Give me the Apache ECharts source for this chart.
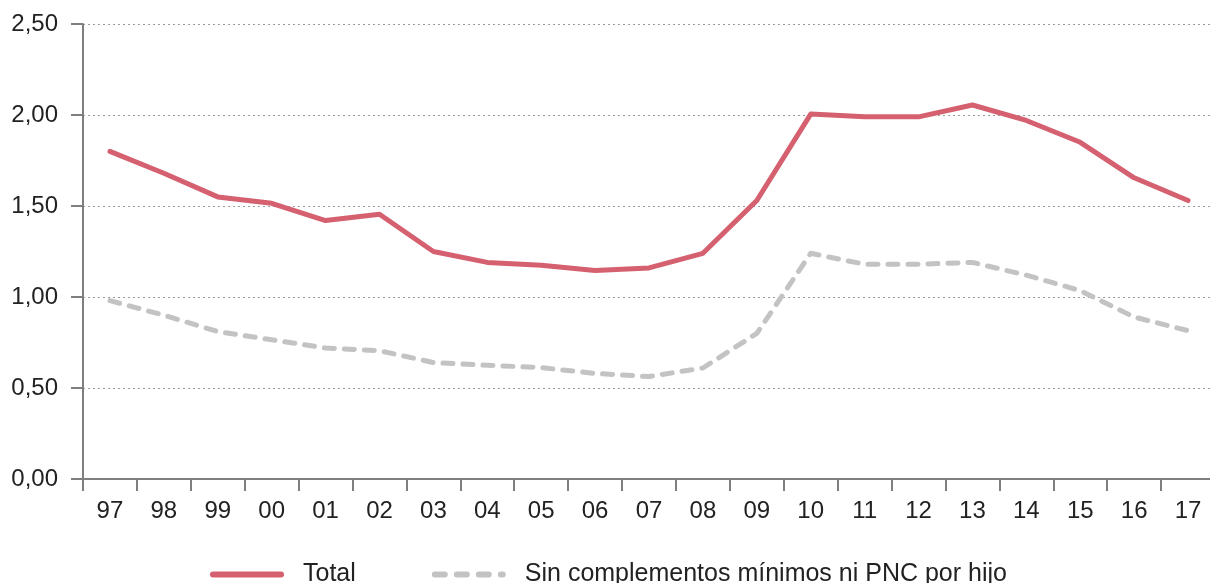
<!DOCTYPE html>
<html>
<head>
<meta charset="utf-8">
<script src="https://cdn.jsdelivr.net/npm/echarts@6/dist/echarts.min.js"></script>
<style>
html,body{margin:0;padding:0;background:#fff;}
#c{width:1210px;height:583px;}
</style>
</head>
<body>
<div id="c"></div>
<script>
const categories = ['97','98','99','00','01','02','03','04','05','06','07','08','09','10','11','12','13','14','15','16','17'];
const totalValues = [1.80,1.68,1.55,1.515,1.42,1.455,1.25,1.19,1.175,1.145,1.16,1.24,1.53,2.005,1.99,1.99,2.055,1.97,1.85,1.655,1.53];
const sinValues = [0.98,0.90,0.81,0.765,0.72,0.705,0.64,0.625,0.612,0.58,0.563,0.61,0.80,1.24,1.18,1.18,1.19,1.12,1.035,0.89,0.815];
const seriesNames = ['Total','Sin complementos mínimos ni PNC por hijo'];
const yTicks = {min:0, max:2.5, interval:0.5};

const FONT = 'Liberation Sans';
const RED = '#d5606f', GREY = '#c3c3c3';
const solidIcon = 'path://M3,0 H71 A3,3 0 0 1 71,6 H3 A3,3 0 0 1 3,0 Z';
const dashIcon = 'path://M3,0 H13 A3,3 0 0 1 13,6 H3 A3,3 0 0 1 3,0 Z M25,0 H35 A3,3 0 0 1 35,6 H25 A3,3 0 0 1 25,0 Z M47,0 H57 A3,3 0 0 1 57,6 H47 A3,3 0 0 1 47,0 Z M69,0 H71 A3,3 0 0 1 71,6 H69 A3,3 0 0 1 69,0 Z';

const chart = echarts.init(document.getElementById('c'), null, {renderer:'canvas'});
chart.setOption({
  animation:false,
  backgroundColor:'#ffffff',
  grid:{left:83, top:24, width:1132, height:455, containLabel:false, outerBoundsMode:'none'},
  legend:{
    top:557, left:205,
    itemWidth:74, itemHeight:6, itemGap:76,
    textStyle:{fontFamily:FONT, fontSize:25, color:'#222', padding:[0,0,0,14]},
    data:[
      {name:seriesNames[0], icon:solidIcon, itemStyle:{color:RED}},
      {name:seriesNames[1], icon:dashIcon, itemStyle:{color:GREY}}
    ]
  },
  xAxis:{
    type:'category', data:categories, boundaryGap:true,
    axisLine:{lineStyle:{color:'#7f7f7f', width:2}},
    axisTick:{show:true, length:12, inside:false, lineStyle:{color:'#7f7f7f', width:2}},
    axisLabel:{fontFamily:FONT, fontSize:24, color:'#222', margin:20}
  },
  yAxis:{
    type:'value', min:yTicks.min, max:yTicks.max, interval:yTicks.interval,
    axisLine:{show:true, lineStyle:{color:'#7f7f7f', width:2}},
    axisTick:{show:true, length:12, lineStyle:{color:'#7f7f7f', width:2}},
    axisLabel:{fontFamily:FONT, fontSize:24, color:'#222', margin:25,
      formatter:v=>v.toFixed(2).replace('.',',')},
    splitLine:{show:true, lineStyle:{color:'#9a9a9a', type:[2,3], width:1}}
  },
  series:[
    {name:seriesNames[0], type:'line', data:totalValues, symbol:'none',
     lineStyle:{color:RED, width:5, cap:'round', join:'round'},
     itemStyle:{color:RED}, z:3},
    {name:seriesNames[1], type:'line', data:sinValues, symbol:'none',
     lineStyle:{color:GREY, width:5, type:[10,10], cap:'round', join:'round'},
     itemStyle:{color:GREY}, z:2}
  ]
});
</script>
</body>
</html>
